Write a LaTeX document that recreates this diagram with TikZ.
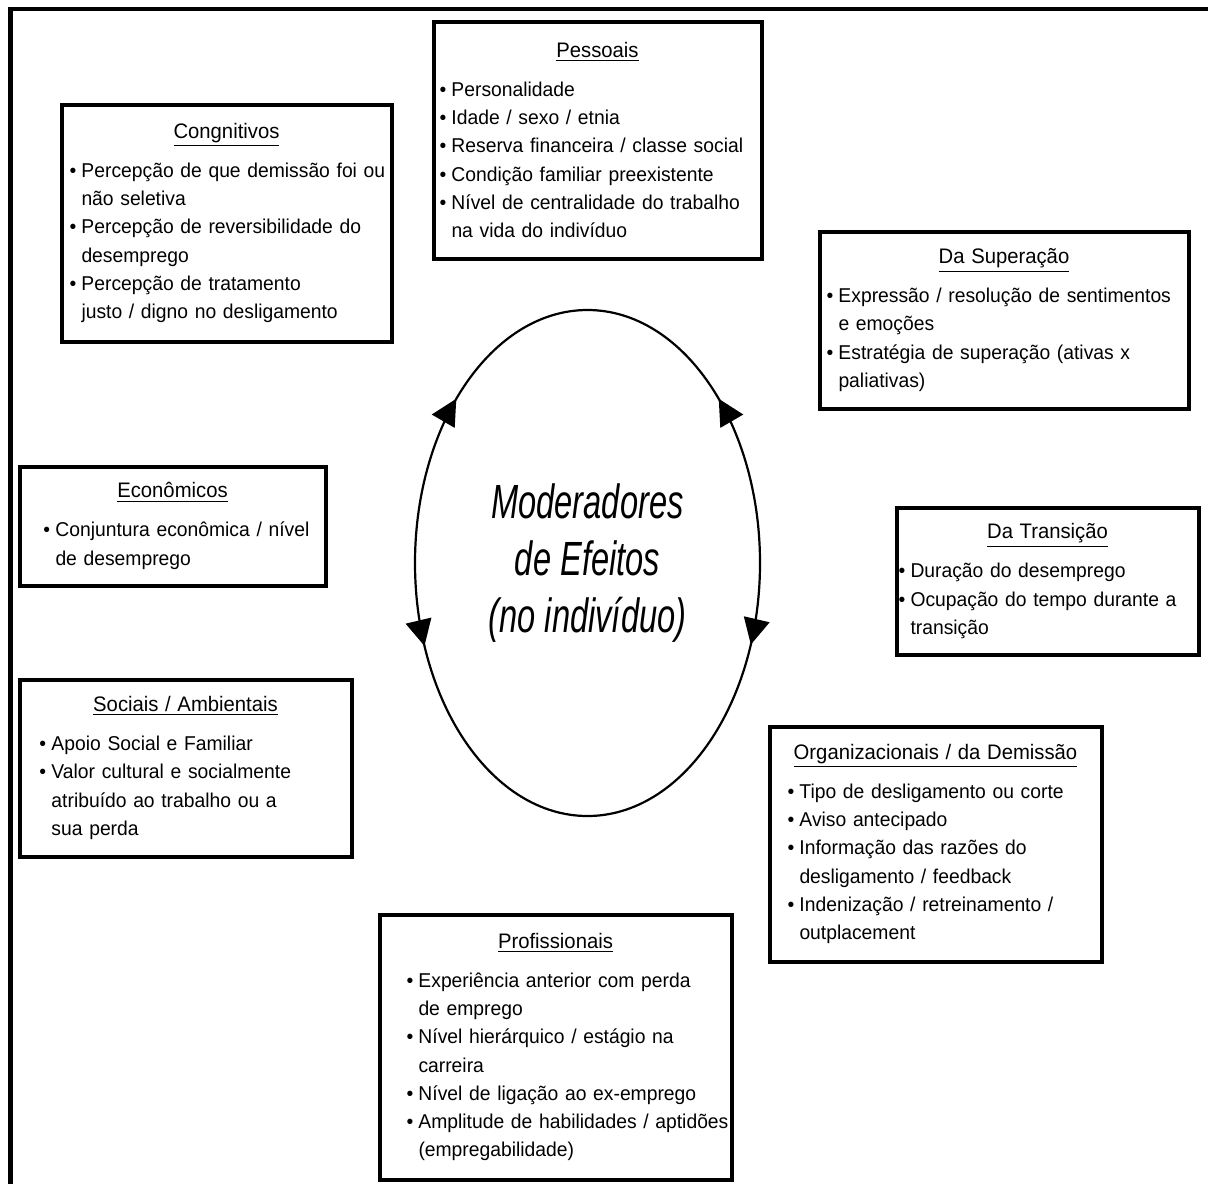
\documentclass[tikz,border=0pt]{standalone}
\usepackage{fontspec}
\setmainfont{Liberation Sans}[FakeStretch=0.965]
\newfontfamily\narrowfont{Liberation Sans}[FakeStretch=0.68]
\usetikzlibrary{arrows.meta,decorations.markings,shapes.geometric}

\newcommand{\btitle}[1]{\makebox[\linewidth]{\fontsize{10.5}{12}\selectfont\underline{#1}}}
\newcommand{\bitem}[1]{\mbox{\makebox[0.6em][l]{\textbullet}#1}}
\newcommand{\bcont}[1]{\mbox{\hspace*{0.6em}#1}}

\begin{document}
\begin{tikzpicture}[x=0.5pt,y=-0.5pt,
      box/.style={draw,line width=2pt,align=left,inner ysep=0pt,font=\fontsize{10}{14.1}\selectfont},
      loophead/.tip={Triangle[length=13pt,width=13pt]},
      loop arrows/.style={decoration={markings,
          mark=at position 0.127 with {\arrow{loophead}},
          mark=at position 0.373 with {\arrowreversed{loophead}},
          mark=at position 0.562 with {\arrow{loophead}},
          mark=at position 0.939 with {\arrowreversed{loophead}}},
        postaction={decorate}}]

    \useasboundingbox (0,0) rectangle (1208,1184);
    \draw[line width=2.2pt] (10.5,1184) -- (10.5,9) -- (1208,9);

    % centre
    \node[align=center,font=\narrowfont\itshape\fontsize{24}{28.5}\selectfont] (moder) at (587.5,563)
      {Moderadores\\de Efeitos\\(no indivíduo)};
    \draw[line width=1.1pt,loop arrows] (moder.center) ellipse [x radius=86.25pt,y radius=126.5pt];

    % factor boxes
    \node[box,minimum height=118.5pt,text width=158pt,inner xsep=3pt] (pess) at (597.5,140)
      {\btitle{Pessoais}\\[5.4pt]
       \bitem{Personalidade}\\
       \bitem{Idade / sexo / etnia}\\
       \bitem{Reserva financeira / classe social}\\
       \bitem{Condição familiar preexistente}\\
       \bitem{Nível de centralidade do trabalho}\\
       \bcont{na vida do indivíduo}};

    \node[box,minimum height=118.5pt,text width=157pt,inner xsep=4pt] (cong) at (226.5,223)
      {\btitle{Congnitivos}\\[5.4pt]
       \bitem{Percepção de que demissão foi ou}\\
       \bcont{não seletiva}\\
       \bitem{Percepção de reversibilidade do}\\
       \bcont{desemprego}\\
       \bitem{Percepção de tratamento}\\
       \bcont{justo / digno no desligamento}};

    \node[box,minimum height=88.5pt,text width=177.5pt,inner xsep=3.5pt] (sup) at (1004,320)
      {\btitle{Da Superação}\\[5.4pt]
       \bitem{Expressão / resolução de sentimentos}\\
       \bcont{e emoções}\\
       \bitem{Estratégia de superação (ativas x}\\
       \bcont{paliativas)}};

    \node[box,minimum height=59.5pt,text width=129pt,inner xsep=12pt] (econ) at (172.5,526)
      {\btitle{Econômicos}\\[5.4pt]
       \bitem{Conjuntura econômica / nível}\\
       \bcont{de desemprego}};

    \node[box,minimum height=73.5pt,text width=149pt,inner xsep=1pt] (trans) at (1047.5,581)
      {\btitle{Da Transição}\\[5.4pt]
       \bitem{Duração do desemprego}\\
       \bitem{Ocupação do tempo durante a}\\
       \bcont{transição}};

    \node[box,minimum height=88.5pt,text width=146pt,inner xsep=10pt] (soc) at (185.5,768)
      {\btitle{Sociais / Ambientais}\\[5.4pt]
       \bitem{Apoio Social e Familiar}\\
       \bitem{Valor cultural e socialmente}\\
       \bcont{atribuído ao trabalho ou a}\\
       \bcont{sua perda}};

    \node[box,minimum height=117.5pt,text width=148pt,inner xsep=9pt] (org) at (935.5,844)
      {\btitle{Organizacionais / da Demissão}\\[5.4pt]
       \bitem{Tipo de desligamento ou corte}\\
       \bitem{Aviso antecipado}\\
       \bitem{Informação das razões do}\\
       \bcont{desligamento / feedback}\\
       \bitem{Indenização / retreinamento /}\\
       \bcont{outplacement}};

    \node[box,minimum height=132.5pt,text width=149pt,inner xsep=13.5pt] (prof) at (555.5,1047)
      {\btitle{Profissionais}\\[5.4pt]
       \bitem{Experiência anterior com perda}\\
       \bcont{de emprego}\\
       \bitem{Nível hierárquico / estágio na}\\
       \bcont{carreira}\\
       \bitem{Nível de ligação ao ex-emprego}\\
       \bitem{Amplitude de habilidades / aptidões}\\
       \bcont{(empregabilidade)}};
  \end{tikzpicture}
\end{document}
